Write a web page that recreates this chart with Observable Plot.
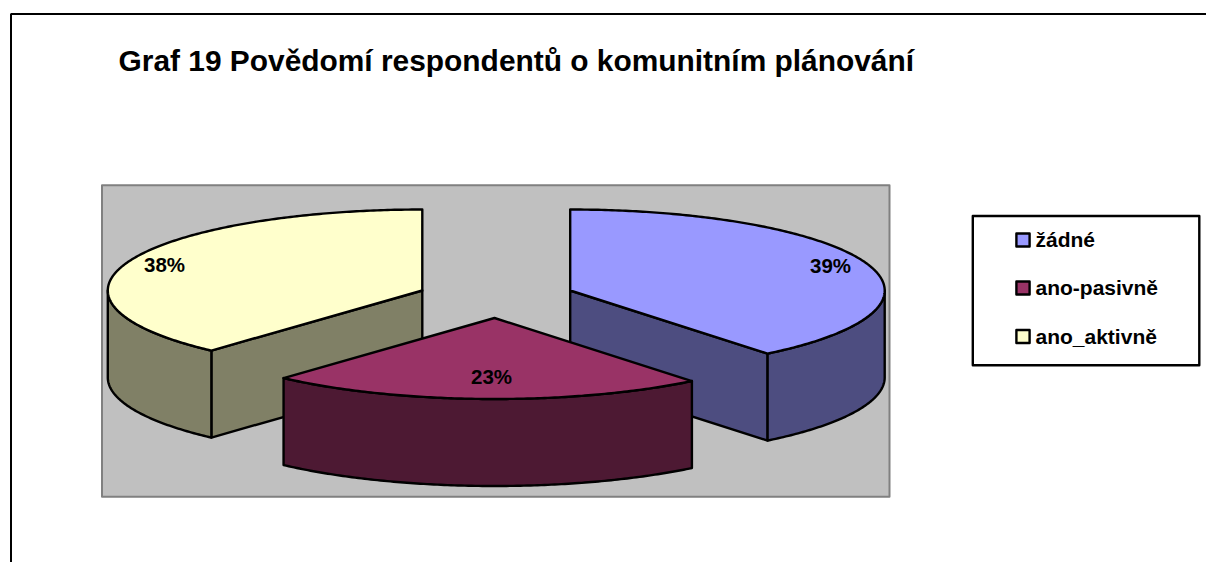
<!DOCTYPE html>
<html>
<head>
<meta charset="utf-8">
<style>html,body{margin:0;padding:0;background:#fff}svg{display:block}</style>
<script src="https://cdn.jsdelivr.net/npm/d3@7"></script>
<script src="https://cdn.jsdelivr.net/npm/@observablehq/plot@0.6"></script>
</head>
<body>
<div id="chart"></div>
<script>
const titleText = "Graf 19 Povědomí respondentů o komunitním plánování";
const categories = ["žádné", "ano-pasivně", "ano_aktivně"];
const shares = [39.2, 22.5, 38.3];
const topColors = ["#9999FF", "#993366", "#FFFFCC"];
const sideColors = ["#4D4D80", "#4D1933", "#808066"];
const centersX = [569.7, 494, 421.8];
const centersY = [290, 317.5, 290];
const labelX = [830, 491, 164];
const labelY = [266, 377, 265];
const legendY = [240, 288, 336.5];
const RX = 314.5, RY = 81, DEPTH = 87;

function rim(i, a0, a1, dy) {
  const n = Math.max(2, Math.ceil(Math.abs(a1 - a0) * 90));
  return d3.range(n + 1).map(k => {
    const a = a0 + (a1 - a0) * k / n;
    return [centersX[i] + RX * Math.sin(a), centersY[i] - RY * Math.cos(a) + dy];
  });
}
let cum = 0;
const angles = shares.map(v => {
  const s = cum; cum += v;
  return [s / 100 * 2 * Math.PI, cum / 100 * 2 * Math.PI];
});
const polys = [];
function add(pts, fill) {
  const id = polys.length;
  polys.push({id, fill, pts: pts.concat([pts[0]])});
}
function radial(i, a) {
  const e = rim(i, a, a, 0)[0];
  const c = [centersX[i], centersY[i]];
  return [c, e, [e[0], e[1] + DEPTH], [c[0], c[1] + DEPTH]];
}
function outer(i, a0, a1) {
  return rim(i, a0, a1, 0).concat(rim(i, a1, a0, DEPTH));
}
function topFace(i) {
  return [[centersX[i], centersY[i]]].concat(rim(i, angles[i][0], angles[i][1], 0));
}
// yellow slice (back left)
add(radial(2, angles[2][0]), sideColors[2]);
add(outer(2, angles[2][0], 1.5 * Math.PI), sideColors[2]);
add(topFace(2), topColors[2]);
// blue slice (back right)
add(radial(0, angles[0][1]), sideColors[0]);
add(outer(0, Math.PI / 2, angles[0][1]), sideColors[0]);
add(topFace(0), topColors[0]);
// maroon slice (front)
add(outer(1, angles[1][0], angles[1][1]), sideColors[1]);
add(topFace(1), topColors[1]);

const pieRows = polys.flatMap(p => p.pts.map(q => ({id: p.id, x: q[0], y: q[1], fill: p.fill})));
const box = (x0, y0, x1, y1) => [[x0,y0],[x1,y0],[x1,y1],[x0,y1],[x0,y0]].map(([x,y]) => ({x,y}));
const pct = v => Math.round(v) + "%";

const font = "Liberation Sans, Arial, sans-serif";
const plot = Plot.plot({
  width: 1206, height: 562,
  margin: 0,
  x: {domain: [0, 1206], range: [0, 1206], axis: null},
  y: {domain: [0, 562], range: [0, 562], axis: null},
  style: {background: "#fff"},
  marks: [
    // frame of the chart area
    Plot.line([{x:10.5,y:563},{x:10.5,y:13.5},{x:1207,y:13.5}], {x:"x", y:"y", stroke:"#000", strokeWidth:2, curve:"linear", strokeLinejoin:"miter"}),
    // plot panel
    Plot.line(box(101.5,184.8,889,496.2), {x:"x", y:"y", fill:"#C0C0C0", stroke:"#808080", strokeWidth:2, curve:"linear"}),
    // pie
    Plot.line(pieRows, {x:"x", y:"y", z:"id", fill:"fill", stroke:"#000", strokeWidth:2.4, curve:"linear", strokeLinejoin:"round"}),
    Plot.text(shares, {x:(d,i)=>labelX[i], y:(d,i)=>labelY[i], text:d=>pct(d), fontFamily:font, fontWeight:"bold", fontSize:20.5, fill:"#000", lineAnchor:"middle"}),
    // title
    Plot.text([titleText], {x:()=>118, y:()=>61, text:d=>d, textAnchor:"start", lineAnchor:"middle", fontFamily:font, fontWeight:"bold", fontSize:29.9, fill:"#000"}),
    // legend
    Plot.line(box(972.3,215.5,1198.8,364.8), {x:"x", y:"y", fill:"#fff", stroke:"#000", strokeWidth:2.4, curve:"linear"}),
    Plot.line(categories.flatMap((c,i)=>box(1015.9,legendY[i]-7,1029.1,legendY[i]+6).map(p=>({...p,c,f:topColors[i]}))), {x:"x", y:"y", z:"c", fill:"f", stroke:"#000", strokeWidth:2.4, curve:"linear"}),
    Plot.text(categories, {x:()=>1035, y:(d,i)=>legendY[i], text:d=>d, textAnchor:"start", lineAnchor:"middle", fontFamily:font, fontWeight:"bold", fontSize:21, fill:"#000"})
  ]
});
document.getElementById("chart").append(plot);
</script>
</body>
</html>
